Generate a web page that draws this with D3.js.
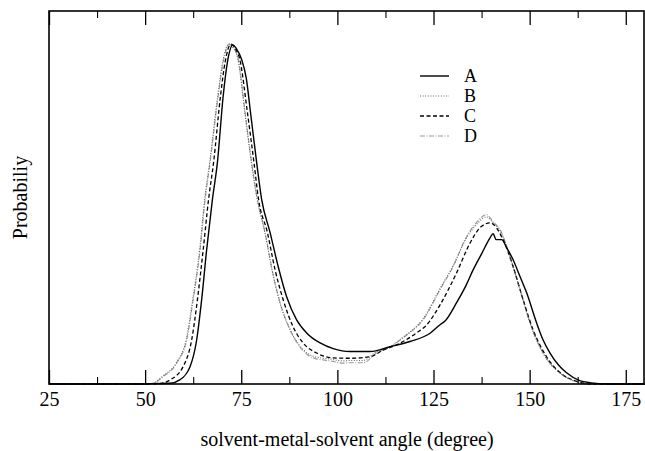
<!DOCTYPE html>
<html>
<head>
<meta charset="utf-8">
<script src="https://cdn.jsdelivr.net/npm/d3@7/dist/d3.min.js"></script>
<style>
  html, body { margin: 0; padding: 0; background: #fff; }
  svg { display: block; }
  text { font-family: "Liberation Serif", "DejaVu Serif", serif; fill: #000; }
</style>
</head>
<body>
<div id="chart"></div>
<script>
// x ticks (degree) and their labels
const xTicks = [25, 50, 75, 100, 125, 150, 175];
const xMinorTicks = [37.5, 62.5, 87.5, 112.5, 137.5, 162.5];
const legendLabels = ['A', 'B', 'C', 'D'];

// [angle, relative probability]
const seriesA = [
  [25, 0], [50, 0], [51.5, 0.001], [56.5, 0.002], [59, 0.011], [61.7, 0.047],
  [63.4, 0.118], [64.7, 0.226], [66, 0.36], [67.5, 0.495], [68.8, 0.594],
  [70.3, 0.772], [71.4, 0.863], [72.8, 0.909], [73.8, 0.898], [75.1, 0.87],
  [76.3, 0.82], [77.5, 0.72], [79, 0.594], [80.3, 0.495], [82.5, 0.406],
  [84.6, 0.315], [86.8, 0.234], [89.4, 0.172], [92, 0.137], [95.5, 0.11],
  [98.9, 0.095], [103.3, 0.087], [108.5, 0.087], [113.7, 0.1], [118.9, 0.114],
  [124.1, 0.136], [126.7, 0.159], [128, 0.169], [131, 0.218], [133.3, 0.261],
  [135.3, 0.306], [137.5, 0.349], [139.7, 0.392], [140.5, 0.403], [141.3, 0.387],
  [142.7, 0.387], [144, 0.366], [145.7, 0.333], [147.5, 0.288], [149.2, 0.245],
  [151.8, 0.164], [153.5, 0.118], [155.3, 0.083], [157.5, 0.051], [159.6, 0.03],
  [163, 0.009], [166, 0.003], [170, 0], [180, 0]
];
const seriesB = [
  [25, 0], [50, 0], [52, 0.002], [54.6, 0.021], [58.1, 0.057], [60.7, 0.12],
  [62.4, 0.228], [64.2, 0.362], [65.5, 0.497], [66.8, 0.596], [68.9, 0.774],
  [70.2, 0.865], [71.8, 0.912], [72.7, 0.904], [74.1, 0.872], [75.9, 0.73],
  [77.6, 0.596], [79.1, 0.497], [81.1, 0.408], [83.1, 0.3], [85, 0.22],
  [87.6, 0.148], [90.2, 0.103], [93.6, 0.075], [98, 0.067], [101.5, 0.062],
  [103.3, 0.063], [106.7, 0.063], [110.2, 0.087], [113.7, 0.1], [117.1, 0.126],
  [120.6, 0.155], [122.3, 0.175], [126.7, 0.256], [130.1, 0.317], [133.6, 0.392],
  [136.2, 0.428], [138.8, 0.448], [140.5, 0.432], [142.3, 0.411], [144.9, 0.34],
  [147.5, 0.252], [150.1, 0.163], [153.5, 0.082], [157.9, 0.029], [162.2, 0.006],
  [166, 0], [180, 0]
];
const seriesC = [
  [25, 0], [50, 0], [53.6, 0.001], [56.5, 0.011], [59.9, 0.047], [62.1, 0.118],
  [63.6, 0.226], [65.1, 0.36], [66.5, 0.495], [67.8, 0.594], [69.6, 0.772],
  [70.8, 0.863], [72.3, 0.911], [73.5, 0.898], [74.6, 0.871], [76.6, 0.728],
  [78.3, 0.594], [79.5, 0.495], [81.8, 0.406], [83.8, 0.306], [85.9, 0.226],
  [88.5, 0.153], [91.1, 0.11], [94.6, 0.083], [98.9, 0.07], [103.3, 0.069],
  [108.5, 0.073], [111.9, 0.091], [115.4, 0.105], [120.6, 0.137], [123, 0.156],
  [126.7, 0.212], [131, 0.298], [134.5, 0.378], [137.1, 0.419], [139.7, 0.432],
  [143.1, 0.387], [145.7, 0.315], [148.3, 0.226], [150.9, 0.145], [154.4, 0.073],
  [158.7, 0.024], [162, 0.008], [166, 0], [180, 0]
];
const seriesD = [
  [25, 0], [50, 0], [52.1, 0.002], [54.7, 0.02], [58.2, 0.056], [60.8, 0.118],
  [62.5, 0.226], [64.3, 0.36], [65.6, 0.495], [66.9, 0.594], [69, 0.772],
  [70.3, 0.863], [71.9, 0.911], [72.8, 0.903], [74.2, 0.871], [76, 0.728],
  [77.7, 0.594], [79.2, 0.495], [81.2, 0.406], [83.2, 0.298], [85.1, 0.218],
  [87.7, 0.145], [90.3, 0.099], [93.7, 0.07], [98.1, 0.062], [101.5, 0.056],
  [103.3, 0.057], [106.7, 0.057], [110.2, 0.083], [113.7, 0.099], [117.1, 0.124],
  [120.6, 0.153], [122.3, 0.172], [126.7, 0.253], [130.1, 0.315], [133.6, 0.395],
  [136.2, 0.433], [138.8, 0.454], [140.5, 0.435], [142.3, 0.414], [144.9, 0.341],
  [147.5, 0.253], [150.1, 0.164], [153.5, 0.083], [157.9, 0.03], [162.2, 0.006],
  [166, 0], [180, 0]
];

const WIDTH = 645;
const HEIGHT = 451;
const plot = { left: 49, right: 644, top: 11, bottom: 384 };

const lineStyles = [
  { data: seriesA, stroke: '#000', width: 1.4, dash: null },
  { data: seriesB, stroke: '#666', width: 1.1, dash: '1,1.6' },
  { data: seriesC, stroke: '#000', width: 1.3, dash: '4,2.5' },
  { data: seriesD, stroke: '#999', width: 1.1, dash: '5,1.5,1,1.5' },
];

const svg = d3.select('#chart').append('svg')
  .attr('width', WIDTH)
  .attr('height', HEIGHT);

const x = d3.scaleLinear().domain([25, 180]).range([plot.left, plot.right + 1]);
const y = d3.scaleLinear().domain([0, 1]).range([plot.bottom, plot.top]);

// curves first so the frame sits on top
const line = d3.line()
  .x((d) => x(d[0]))
  .y((d) => y(d[1]))
  .curve(d3.curveMonotoneX);

const curvesG = svg.append('g').attr('class', 'curves');
lineStyles.slice().reverse().forEach((s) => {
  curvesG.append('path')
    .datum(s.data)
    .attr('fill', 'none')
    .attr('stroke', s.stroke)
    .attr('stroke-width', s.width)
    .attr('stroke-dasharray', s.dash)
    .attr('d', line);
});

// frame
svg.append('rect')
  .attr('x', plot.left)
  .attr('y', plot.top)
  .attr('width', plot.right - plot.left)
  .attr('height', plot.bottom - plot.top)
  .attr('fill', 'none')
  .attr('stroke', '#000')
  .attr('stroke-width', 1.6);

// bottom axis: ticks point inward, labels below
const bottomAxis = d3.axisBottom(x)
  .tickValues(xTicks)
  .tickSizeInner(-14)
  .tickSizeOuter(0)
  .tickPadding(8);
const bottomG = svg.append('g')
  .attr('transform', `translate(0,${plot.bottom})`)
  .call(bottomAxis);
bottomG.select('.domain').remove();
bottomG.selectAll('.tick line').attr('stroke', '#000').attr('stroke-width', 1.3);
bottomG.selectAll('.tick text')
  .attr('font-size', 20)
  .attr('font-family', '"Liberation Serif", serif')
  .attr('fill', '#000');

const bottomMinor = d3.axisBottom(x)
  .tickValues(xMinorTicks)
  .tickSizeInner(-7)
  .tickSizeOuter(0)
  .tickFormat('');
svg.append('g')
  .attr('transform', `translate(0,${plot.bottom})`)
  .call(bottomMinor)
  .call((g) => g.select('.domain').remove())
  .selectAll('.tick line').attr('stroke', '#000').attr('stroke-width', 1.1);

// top axis mirrors the ticks, no labels
[[xTicks, 14, 1.3], [xMinorTicks, 7, 1.1]].forEach(([vals, len, w]) => {
  svg.append('g')
    .attr('transform', `translate(0,${plot.top})`)
    .call(d3.axisTop(x).tickValues(vals).tickSizeInner(-len).tickSizeOuter(0).tickFormat(''))
    .call((g) => g.select('.domain').remove())
    .selectAll('.tick line').attr('stroke', '#000').attr('stroke-width', w);
});

// axis titles
svg.append('text')
  .attr('x', 347)
  .attr('y', 446)
  .attr('text-anchor', 'middle')
  .attr('font-size', 20)
  .text('solvent-metal-solvent angle (degree)');

svg.append('text')
  .attr('transform', `translate(27,${(plot.top + plot.bottom) / 2}) rotate(-90)`)
  .attr('text-anchor', 'middle')
  .attr('font-size', 20)
  .text('Probabiliy');

// legend
const legend = svg.append('g').attr('transform', 'translate(420,76)');
legendLabels.forEach((label, i) => {
  const s = lineStyles[i];
  const row = legend.append('g').attr('transform', `translate(0,${i * 20})`);
  row.append('line')
    .attr('x1', 0).attr('x2', 29)
    .attr('y1', 0).attr('y2', 0)
    .attr('stroke', s.stroke)
    .attr('stroke-width', s.width)
    .attr('stroke-dasharray', s.dash);
  row.append('text')
    .attr('x', 44)
    .attr('y', 6)
    .attr('font-size', 18)
    .text(label);
});
</script>
</body>
</html>
